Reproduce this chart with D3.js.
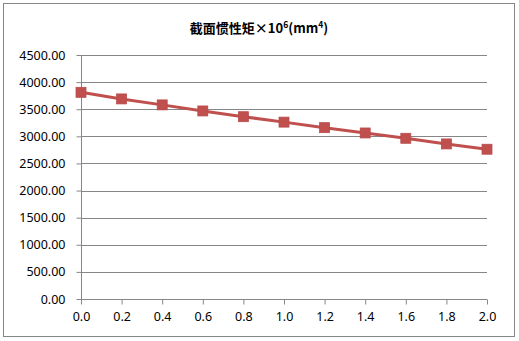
<!DOCTYPE html>
<html><head><meta charset="utf-8">
<script src="https://cdn.jsdelivr.net/npm/d3@7"></script>
<style>body{margin:0;background:#fff}svg{display:block}</style>
</head><body>
<script>
const xValues = [0.0, 0.2, 0.4, 0.6, 0.8, 1.0, 1.2, 1.4, 1.6, 1.8, 2.0];
const inertia = [3812, 3690, 3580, 3468, 3362, 3262, 3160, 3062, 2964, 2860, 2762];
const yTicks = [0, 500, 1000, 1500, 2000, 2500, 3000, 3500, 4000, 4500];
const xTicks = [0.0, 0.2, 0.4, 0.6, 0.8, 1.0, 1.2, 1.4, 1.6, 1.8, 2.0];

const W = 519, H = 341;
const svg = d3.select("body").append("svg").attr("width", W).attr("height", H);
svg.append("rect").attr("x", 3.5).attr("y", 3.5).attr("width", 511).attr("height", 333)
  .attr("fill", "#fff").attr("stroke", "#868686").attr("stroke-width", 1);

const x = d3.scaleLinear().domain([0, 2]).range([81, 487]);
const y = d3.scaleLinear().domain([0, 4500]).range([299, 55]);

// gridlines
svg.append("g").selectAll("line").data(yTicks.filter(d => d > 0)).join("line")
  .attr("x1", x(0)).attr("x2", x(2))
  .attr("y1", d => Math.round(y(d)) + 0.5).attr("y2", d => Math.round(y(d)) + 0.5)
  .attr("stroke", "#868686").attr("stroke-width", 1);

const font = "'Noto Sans', 'DejaVu Sans', sans-serif";
// y axis
const ya = svg.append("g").attr("transform", `translate(${x(0) + 0.5},0)`)
  .call(d3.axisLeft(y).tickValues(yTicks).tickFormat(d3.format(".2f")).tickSize(5).tickPadding(11));
ya.select(".domain").attr("stroke", "#868686").attr("d", `M0,${y(4500)}V${y(0)}`);
ya.selectAll(".tick line").attr("stroke", "#868686");
ya.selectAll(".tick text").attr("fill", "#000").style("font-family", font).style("font-size", "12.5px");

// x axis
const xa = svg.append("g").attr("transform", `translate(0,${Math.round(y(0)) + 0.5})`)
  .call(d3.axisBottom(x).tickValues(xTicks).tickFormat(d3.format(".1f")).tickSize(5).tickPadding(8));
xa.select(".domain").attr("stroke", "#868686").attr("d", `M${x(0)},0H${x(2)}`);
xa.selectAll(".tick line").attr("stroke", "#868686");
xa.selectAll(".tick text").attr("fill", "#000").style("font-family", font).style("font-size", "12.5px");

// line
const data = xValues.map((v, i) => [v, inertia[i]]);
svg.append("path").datum(data)
  .attr("fill", "none").attr("stroke", "#C0504D").attr("stroke-width", 3)
  .attr("d", d3.line().x(d => x(d[0])).y(d => y(d[1])));
svg.append("g").selectAll("rect").data(data).join("rect")
  .attr("x", d => x(d[0]) - 5).attr("y", d => y(d[1]) - 5)
  .attr("width", 10).attr("height", 10)
  .attr("fill", "#C0504D").attr("stroke", "#B9494A").attr("stroke-width", 0.75);

// title
const t = svg.append("text").attr("x", 259).attr("y", 33).attr("text-anchor", "middle")
  .style("font-family", "'Noto Sans CJK SC', 'Noto Sans', sans-serif")
  .style("font-size", "13px").style("font-weight", "bold").attr("fill", "#000");
t.append("tspan").text("截面惯性矩×10");
t.append("tspan").attr("dy", -5).style("font-size", "8.5px").text("6");
t.append("tspan").attr("dy", 5).text("(mm");
t.append("tspan").attr("dy", -5).style("font-size", "8.5px").text("4");
t.append("tspan").attr("dy", 5).text(")");
</script>
</body></html>
